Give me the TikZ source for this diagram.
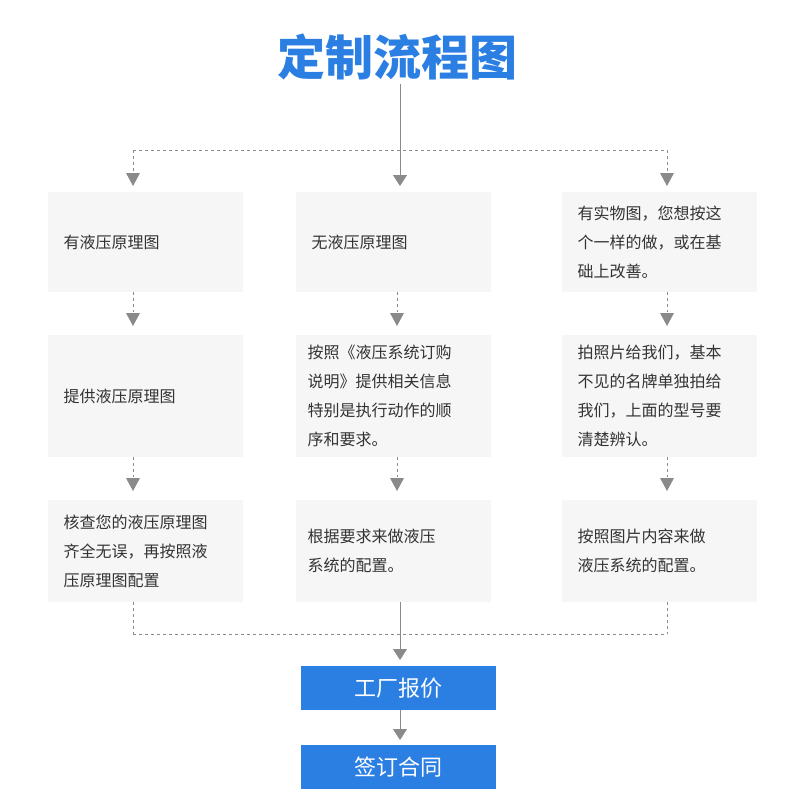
\documentclass[tikz,border=0pt]{standalone}
\usepackage{fontspec}
\setmainfont{Noto Sans CJK SC}
\usetikzlibrary{arrows.meta}
\definecolor{flowblue}{HTML}{2B7FE3}
\definecolor{boxgray}{HTML}{F6F6F6}
\definecolor{linegray}{HTML}{8A8A8A}
\begin{document}
\begin{tikzpicture}[x=1pt,y=-1pt,
    stepbox/.style = {fill=boxgray, minimum width=195pt, anchor=north west},
    txt/.style = {anchor=west, align=left, font=\fontsize{16}{29}\selectfont, text=black!80},
    quote/.style = {fill=flowblue, minimum width=195pt, minimum height=44pt, text=white, font=\fontsize{22}{24}\selectfont},
    link/.style = {linegray, dashed, thin},
    tip/.style = {-{Triangle[width=14pt,length=11pt]}, linegray}]
    \useasboundingbox (0,0) rectangle (800,800);
    \node [text=flowblue, font=\fontsize{48}{52}\selectfont\bfseries] (T) at (397,57) {定制流程图};

    % three columns
    \foreach \c/\x in {a/48, b/296, c/562} {
        \node [stepbox, minimum height=100pt] (\c1) at (\x,192) {};
        \node [stepbox, minimum height=122pt] (\c2) at (\x,335) {};
        \node [stepbox, minimum height=102pt] (\c3) at (\x,500) {};
    }
    \node [txt] at ([xshift=12pt]a1.west) {有液压原理图};
    \node [txt] at ([xshift=12pt]a2.west) {提供液压原理图};
    \node [txt] at ([xshift=12pt]a3.west) {核查您的液压原理图\\齐全无误，再按照液\\压原理图配置};
    \node [txt] at ([xshift=12pt]b1.west) {无液压原理图};
    \node [txt] at ([xshift=8pt]b2.west) {按照《液压系统订购\\说明》提供相关信息\\特别是执行动作的顺\\序和要求。};
    \node [txt] at ([xshift=8pt]b3.west) {根据要求来做液压\\系统的配置。};
    \node [txt] at ([xshift=12pt]c1.west) {有实物图，您想按这\\个一样的做，或在基\\础上改善。};
    \node [txt] at ([xshift=12pt]c2.west) {拍照片给我们，基本\\不见的名牌单独拍给\\我们，上面的型号要\\清楚辨认。};
    \node [txt] at ([xshift=12pt]c3.west) {按照图片内容来做\\液压系统的配置。};

    \node [quote] (Q) at (398.5,688) {工厂报价};
    \node [quote] (S) at (398.5,767) {签订合同};

    % top fan-out
    \coordinate (Ja) at (133,150);
    \coordinate (Jc) at (667,150);
    \draw [link] (Ja) -- (Jc);
    \draw [tip] (T.south -| 400,0) -- (400,186);
    \draw [link] (Ja) -- (133,173);
    \draw [link] (Jc) -- (667,173);
    \foreach \x in {133, 667}
        \fill [linegray] (\x-7,173) -- (\x+7,173) -- (\x,186) -- cycle;
    \foreach \c/\x in {a/133, b/397, c/667}
        \foreach \i/\j in {1/2, 2/3} {
            \draw [link] (\x,0 |- \c\i.south) -- +(0,20);
            \fill [linegray] (\x-7,0 |- \c\j.north) ++(0,-22) -- +(14,0) -- +(7,13) -- cycle;
        }

    % bottom fan-in
    \coordinate (Ka) at (133,634);
    \coordinate (Kc) at (667,634);
    \draw [link] (Ka) -- (Kc);
    \draw [link] (Ka |- a3.south) -- (Ka);
    \draw [link] (Kc |- c3.south) -- (Kc);
    \draw [tip] (400,0 |- b3.south) -- (400,660);
    \draw [tip] (400,0 |- Q.south) -- (400,740);
\end{tikzpicture}
\end{document}
